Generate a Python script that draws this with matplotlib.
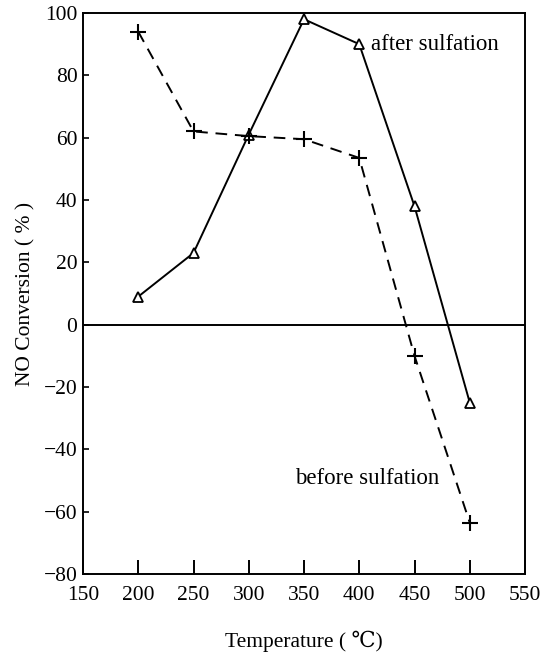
import matplotlib
matplotlib.use("Agg")
import matplotlib.pyplot as plt

# NO conversion vs. temperature
temperature = [200, 250, 300, 350, 400, 450, 500]
after_sulfation = [9, 23, 61, 98, 90, 38, -25]
before_sulfation = [94, 62, 60.5, 59.5, 53.5, -10, -63.5]

x_ticks = [150, 200, 250, 300, 350, 400, 450, 500, 550]
y_ticks = [-80, -60, -40, -20, 0, 20, 40, 60, 80, 100]

plt.rcParams["font.family"] = ["Liberation Serif", "DejaVu Serif"]

fig = plt.figure(figsize=(5.54, 6.58), dpi=100)
ax = fig.add_axes([83 / 554, 1 - 574 / 658, (525 - 83) / 554, (574 - 13) / 658])

ax.plot(temperature, after_sulfation, color="black", lw=1.4,
        marker="^", markersize=6.5, markerfacecolor="white",
        markeredgecolor="black", markeredgewidth=1.3, zorder=3)
ax.plot(temperature, before_sulfation, color="black", lw=1.4,
        linestyle=(0, (6, 4)), marker="+", markersize=11,
        markeredgewidth=1.5, zorder=3)

ax.axhline(0, color="black", lw=1.4, zorder=2)

ax.set_xlim(150, 550)
ax.set_ylim(-80, 100)
ax.set_xticks(x_ticks)
ax.set_yticks(y_ticks)
ax.set_xticklabels([str(v) for v in x_ticks])
ax.set_yticklabels([str(v).replace("-", "\u2212") for v in y_ticks])

ax.tick_params(axis="x", direction="in", length=10, width=1.4,
               labelsize=15.5, pad=9)
ax.tick_params(axis="y", direction="in", length=4, width=1.2,
               labelsize=15.5, pad=4)
for side in ax.spines.values():
    side.set_linewidth(1.4)

ax.text(411, 90, "after sulfation", fontsize=16.5, va="center", ha="left")
ax.text(342, -49.5, "before sulfation", fontsize=16.5, va="center", ha="left")

ax.set_ylabel("NO Conversion ( % )", fontsize=15.5, labelpad=6)
ax.set_xlabel("Temperature ( \u2103)", fontsize=15.5, labelpad=18)

fig.savefig("out.png", dpi=100)
